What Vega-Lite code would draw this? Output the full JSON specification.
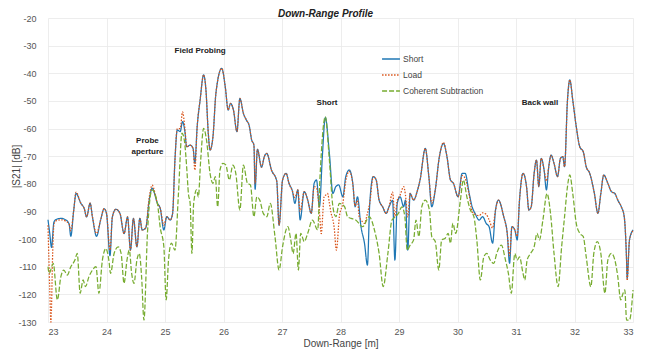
{
  "$schema": "https://vega.github.io/schema/vega-lite/v6.json",
  "width": 585,
  "height": 304,
  "autosize": {"type": "none"},
  "padding": {"left": 48, "top": 18, "right": 14, "bottom": 27},
  "background": "white",
  "title": {"text": "Down-Range Profile", "fontStyle": "italic", "fontWeight": "bold", "fontSize": 10, "font": "Liberation Sans", "color": "#222", "anchor": "middle", "dx": -15, "offset": -5},
  "config": {
    "view": {"stroke": null},
    "axis": {"labelFont": "Liberation Sans", "titleFont": "Liberation Sans", "labelFontSize": 9, "titleFontSize": 10, "labelColor": "#555", "titleColor": "#444", "titleFontWeight": "normal", "domain": false, "ticks": false, "gridColor": "#e8e8e8", "gridWidth": 0.8}
  },
  "datasets": {
    "short": [
      {"x":23.00,"y":-93},{"x":23.03,"y":-98},{"x":23.06,"y":-103},{"x":23.10,"y":-94},{"x":23.13,"y":-93},{"x":23.22,"y":-92.5},{"x":23.30,"y":-93},{"x":23.36,"y":-94.5},{"x":23.39,"y":-99},{"x":23.44,"y":-89.5},{"x":23.48,"y":-83.5},{"x":23.56,"y":-87},{"x":23.62,"y":-89},{"x":23.66,"y":-92},{"x":23.72,"y":-87},{"x":23.76,"y":-92},{"x":23.83,"y":-99},{"x":23.90,"y":-93},{"x":23.96,"y":-89},{"x":24.00,"y":-90.7},{"x":24.06,"y":-106},{"x":24.10,"y":-92},{"x":24.16,"y":-89.2},{"x":24.23,"y":-90.7},{"x":24.30,"y":-98},{"x":24.36,"y":-92},{"x":24.41,"y":-104},{"x":24.46,"y":-92.5},{"x":24.52,"y":-102.8},{"x":24.57,"y":-92.5},{"x":24.61,"y":-96.7},{"x":24.67,"y":-96},{"x":24.73,"y":-86},{"x":24.78,"y":-81.6},{"x":24.87,"y":-87},{"x":24.92,"y":-89},{"x":24.98,"y":-96.7},{"x":25.03,"y":-91.9},{"x":25.09,"y":-93.1},{"x":25.13,"y":-90.7},{"x":25.17,"y":-71.4},{"x":25.21,"y":-60.5},{"x":25.26,"y":-61.1},{"x":25.30,"y":-57.5},{"x":25.34,"y":-61.1},{"x":25.37,"y":-66.6},{"x":25.43,"y":-66},{"x":25.48,"y":-67.2},{"x":25.51,"y":-72.6},{"x":25.55,"y":-59.3},{"x":25.60,"y":-49.7},{"x":25.66,"y":-40.6},{"x":25.70,"y":-46.1},{"x":25.74,"y":-61.7},{"x":25.77,"y":-67.8},{"x":25.82,"y":-62.9},{"x":25.87,"y":-47.3},{"x":25.97,"y":-38.2},{"x":26.03,"y":-44.9},{"x":26.08,"y":-53.3},{"x":26.12,"y":-50.9},{"x":26.17,"y":-53.3},{"x":26.23,"y":-61.1},{"x":26.28,"y":-49.1},{"x":26.34,"y":-54.5},{"x":26.39,"y":-56.9},{"x":26.44,"y":-59},{"x":26.48,"y":-64},{"x":26.52,"y":-66},{"x":26.54,"y":-82},{"x":26.58,"y":-67.5},{"x":26.65,"y":-74},{"x":26.70,"y":-70},{"x":26.74,"y":-69},{"x":26.82,"y":-75},{"x":26.91,"y":-79},{"x":26.95,"y":-95},{"x":27.01,"y":-78.6},{"x":27.07,"y":-76.2},{"x":27.12,"y":-79.8},{"x":27.18,"y":-82.8},{"x":27.22,"y":-87.1},{"x":27.27,"y":-82.2},{"x":27.31,"y":-93.1},{"x":27.38,"y":-82.8},{"x":27.44,"y":-85.9},{"x":27.50,"y":-90.7},{"x":27.55,"y":-79.8},{"x":27.59,"y":-78.6},{"x":27.64,"y":-88.3},{"x":27.69,"y":-70},{"x":27.74,"y":-56},{"x":27.81,"y":-69},{"x":27.87,"y":-83.5},{"x":27.92,"y":-81},{"x":27.97,"y":-80.4},{"x":28.04,"y":-84.7},{"x":28.09,"y":-77.4},{"x":28.15,"y":-75},{"x":28.21,"y":-79.8},{"x":28.25,"y":-88.3},{"x":28.29,"y":-84.7},{"x":28.35,"y":-95.5},{"x":28.41,"y":-101.5},{"x":28.46,"y":-109.4},{"x":28.50,"y":-87.1},{"x":28.56,"y":-77.4},{"x":28.61,"y":-78.6},{"x":28.66,"y":-85.9},{"x":28.72,"y":-88.3},{"x":28.78,"y":-90.7},{"x":28.83,"y":-88.3},{"x":28.89,"y":-86},{"x":28.93,"y":-107.6},{"x":28.97,"y":-87.1},{"x":29.02,"y":-84.7},{"x":29.08,"y":-88.3},{"x":29.11,"y":-85.9},{"x":29.15,"y":-104},{"x":29.19,"y":-83.5},{"x":29.25,"y":-85.9},{"x":29.31,"y":-82.8},{"x":29.36,"y":-78.6},{"x":29.45,"y":-67.2},{"x":29.51,"y":-77.4},{"x":29.56,"y":-88.3},{"x":29.62,"y":-82.2},{"x":29.69,"y":-70.2},{"x":29.76,"y":-65.4},{"x":29.82,"y":-70.2},{"x":29.88,"y":-78.6},{"x":29.93,"y":-79.8},{"x":30.01,"y":-84.7},{"x":30.08,"y":-76.2},{"x":30.13,"y":-76.2},{"x":30.20,"y":-83.5},{"x":30.25,"y":-88.3},{"x":30.30,"y":-90.7},{"x":30.37,"y":-93.1},{"x":30.43,"y":-91.9},{"x":30.49,"y":-94.3},{"x":30.54,"y":-95.5},{"x":30.60,"y":-101.5},{"x":30.65,"y":-89.5},{"x":30.70,"y":-85.9},{"x":30.79,"y":-91.9},{"x":30.85,"y":-97.9},{"x":30.89,"y":-108.8},{"x":30.93,"y":-95.5},{"x":30.98,"y":-96.7},{"x":31.02,"y":-100.3},{"x":31.06,"y":-85.9},{"x":31.12,"y":-76.2},{"x":31.18,"y":-81},{"x":31.22,"y":-89.5},{"x":31.26,"y":-88.3},{"x":31.31,"y":-76.2},{"x":31.35,"y":-71.4},{"x":31.39,"y":-81},{"x":31.43,"y":-70.8},{"x":31.48,"y":-75},{"x":31.52,"y":-82.2},{"x":31.56,"y":-73.8},{"x":31.60,"y":-69.6},{"x":31.65,"y":-72.6},{"x":31.71,"y":-77.4},{"x":31.76,"y":-70.8},{"x":31.80,"y":-70.2},{"x":31.83,"y":-73.8},{"x":31.88,"y":-49.7},{"x":31.92,"y":-42.4},{"x":31.97,"y":-49.7},{"x":32.03,"y":-59.3},{"x":32.09,"y":-66.6},{"x":32.15,"y":-68.4},{"x":32.20,"y":-73.8},{"x":32.26,"y":-76.2},{"x":32.34,"y":-83.5},{"x":32.40,"y":-90.7},{"x":32.45,"y":-83.5},{"x":32.50,"y":-76.8},{"x":32.57,"y":-79.8},{"x":32.63,"y":-82.8},{"x":32.69,"y":-83.5},{"x":32.74,"y":-85.9},{"x":32.80,"y":-88.3},{"x":32.85,"y":-91.9},{"x":32.89,"y":-107.6},{"x":32.90,"y":-114.2},{"x":32.94,"y":-100.3},{"x":33.00,"y":-96.7}
    ],
    "load": [
      {"x":23.00,"y":-95},{"x":23.03,"y":-118},{"x":23.05,"y":-130},{"x":23.08,"y":-105},{"x":23.10,"y":-95},{"x":23.13,"y":-93.5},{"x":23.22,"y":-93},{"x":23.30,"y":-93.5},{"x":23.36,"y":-94.5},{"x":23.39,"y":-97},{"x":23.44,"y":-89.5},{"x":23.48,"y":-83},{"x":23.56,"y":-87},{"x":23.62,"y":-89},{"x":23.66,"y":-92},{"x":23.72,"y":-87},{"x":23.76,"y":-92},{"x":23.83,"y":-98},{"x":23.90,"y":-93},{"x":23.96,"y":-89},{"x":24.00,"y":-90.7},{"x":24.06,"y":-104},{"x":24.10,"y":-92},{"x":24.16,"y":-89.2},{"x":24.23,"y":-90.7},{"x":24.30,"y":-98},{"x":24.36,"y":-92},{"x":24.41,"y":-104},{"x":24.46,"y":-92.5},{"x":24.52,"y":-102.8},{"x":24.57,"y":-92.5},{"x":24.61,"y":-96.7},{"x":24.67,"y":-96},{"x":24.73,"y":-85},{"x":24.78,"y":-80.5},{"x":24.87,"y":-87},{"x":24.92,"y":-89},{"x":24.98,"y":-95},{"x":25.03,"y":-91.9},{"x":25.09,"y":-93.1},{"x":25.13,"y":-90.7},{"x":25.17,"y":-71.4},{"x":25.21,"y":-60},{"x":25.26,"y":-60},{"x":25.30,"y":-54},{"x":25.34,"y":-60},{"x":25.37,"y":-66.6},{"x":25.43,"y":-66},{"x":25.48,"y":-67.2},{"x":25.51,"y":-75},{"x":25.55,"y":-59.3},{"x":25.60,"y":-49.7},{"x":25.66,"y":-40.6},{"x":25.70,"y":-46.1},{"x":25.74,"y":-61.7},{"x":25.77,"y":-67.8},{"x":25.82,"y":-62.9},{"x":25.87,"y":-47.3},{"x":25.97,"y":-38.2},{"x":26.03,"y":-44.9},{"x":26.08,"y":-53.3},{"x":26.12,"y":-50.9},{"x":26.17,"y":-53.3},{"x":26.23,"y":-61.1},{"x":26.28,"y":-49.1},{"x":26.34,"y":-54.5},{"x":26.39,"y":-56.9},{"x":26.44,"y":-59},{"x":26.48,"y":-64},{"x":26.52,"y":-66},{"x":26.54,"y":-80},{"x":26.58,"y":-67.5},{"x":26.65,"y":-74},{"x":26.70,"y":-70},{"x":26.74,"y":-69},{"x":26.82,"y":-75},{"x":26.91,"y":-79},{"x":26.95,"y":-95},{"x":27.01,"y":-78.6},{"x":27.07,"y":-76.2},{"x":27.12,"y":-79.8},{"x":27.18,"y":-82.8},{"x":27.22,"y":-85},{"x":27.27,"y":-82.2},{"x":27.31,"y":-90},{"x":27.38,"y":-82.8},{"x":27.44,"y":-85.9},{"x":27.50,"y":-90.7},{"x":27.55,"y":-81},{"x":27.59,"y":-81.5},{"x":27.64,"y":-90},{"x":27.67,"y":-98},{"x":27.72,"y":-84.7},{"x":27.75,"y":-84},{"x":27.78,"y":-83.5},{"x":27.81,"y":-87},{"x":27.84,"y":-90.7},{"x":27.87,"y":-93},{"x":27.89,"y":-95.5},{"x":27.93,"y":-104},{"x":27.98,"y":-92},{"x":28.04,"y":-87},{"x":28.09,"y":-79},{"x":28.15,"y":-75.5},{"x":28.21,"y":-80},{"x":28.25,"y":-88},{"x":28.29,"y":-86},{"x":28.32,"y":-92},{"x":28.35,"y":-93},{"x":28.41,"y":-94.3},{"x":28.46,"y":-90.7},{"x":28.50,"y":-87},{"x":28.56,"y":-77.4},{"x":28.61,"y":-78.6},{"x":28.66,"y":-85.9},{"x":28.72,"y":-88.3},{"x":28.78,"y":-90.7},{"x":28.83,"y":-88.3},{"x":28.89,"y":-83},{"x":28.93,"y":-92},{"x":28.97,"y":-86},{"x":29.02,"y":-84},{"x":29.08,"y":-81},{"x":29.11,"y":-84},{"x":29.15,"y":-92},{"x":29.19,"y":-83.5},{"x":29.25,"y":-85.9},{"x":29.31,"y":-82.8},{"x":29.36,"y":-78.6},{"x":29.45,"y":-67.2},{"x":29.51,"y":-77.4},{"x":29.56,"y":-87},{"x":29.62,"y":-82.2},{"x":29.69,"y":-70.2},{"x":29.76,"y":-65},{"x":29.82,"y":-70.2},{"x":29.88,"y":-78.6},{"x":29.93,"y":-79.8},{"x":30.01,"y":-84.7},{"x":30.08,"y":-77},{"x":30.13,"y":-78},{"x":30.20,"y":-84},{"x":30.25,"y":-90},{"x":30.30,"y":-91},{"x":30.37,"y":-91.5},{"x":30.43,"y":-90.5},{"x":30.49,"y":-91},{"x":30.54,"y":-93},{"x":30.60,"y":-96},{"x":30.65,"y":-89.5},{"x":30.70,"y":-85.9},{"x":30.79,"y":-91.9},{"x":30.85,"y":-97.9},{"x":30.89,"y":-106},{"x":30.93,"y":-95.5},{"x":30.98,"y":-96.7},{"x":31.02,"y":-99},{"x":31.06,"y":-85.9},{"x":31.12,"y":-76.2},{"x":31.18,"y":-81},{"x":31.22,"y":-89.5},{"x":31.26,"y":-88.3},{"x":31.31,"y":-76.2},{"x":31.35,"y":-71.4},{"x":31.39,"y":-81},{"x":31.43,"y":-70.8},{"x":31.48,"y":-75},{"x":31.52,"y":-79},{"x":31.56,"y":-73.8},{"x":31.60,"y":-69.6},{"x":31.65,"y":-72.6},{"x":31.71,"y":-77.4},{"x":31.76,"y":-70.8},{"x":31.80,"y":-70.2},{"x":31.83,"y":-73.8},{"x":31.88,"y":-49.7},{"x":31.92,"y":-42.4},{"x":31.97,"y":-49.7},{"x":32.03,"y":-59.3},{"x":32.09,"y":-66.6},{"x":32.15,"y":-68.4},{"x":32.20,"y":-73.8},{"x":32.26,"y":-76.2},{"x":32.34,"y":-83.5},{"x":32.40,"y":-90.7},{"x":32.45,"y":-83.5},{"x":32.50,"y":-76.8},{"x":32.57,"y":-79.8},{"x":32.63,"y":-82.8},{"x":32.69,"y":-83.5},{"x":32.74,"y":-85.9},{"x":32.80,"y":-88.3},{"x":32.85,"y":-91.9},{"x":32.89,"y":-107.6},{"x":32.90,"y":-115},{"x":32.94,"y":-100.3},{"x":33.00,"y":-97}
    ],
    "cs": [
      {"x":23.00,"y":-110},{"x":23.02,"y":-112.4},{"x":23.09,"y":-108.8},{"x":23.16,"y":-122},{"x":23.22,"y":-113.6},{"x":23.27,"y":-111.2},{"x":23.33,"y":-113},{"x":23.39,"y":-110},{"x":23.46,"y":-107.6},{"x":23.50,"y":-105.2},{"x":23.55,"y":-119.6},{"x":23.60,"y":-114.8},{"x":23.64,"y":-117.2},{"x":23.70,"y":-113.6},{"x":23.76,"y":-111.2},{"x":23.82,"y":-110},{"x":23.87,"y":-119.6},{"x":23.93,"y":-107.6},{"x":23.99,"y":-103.4},{"x":24.04,"y":-107.6},{"x":24.07,"y":-112.4},{"x":24.13,"y":-105.2},{"x":24.20,"y":-102.8},{"x":24.25,"y":-105.2},{"x":24.30,"y":-116},{"x":24.35,"y":-107.6},{"x":24.39,"y":-104},{"x":24.43,"y":-112.4},{"x":24.47,"y":-116},{"x":24.52,"y":-107.6},{"x":24.56,"y":-105.2},{"x":24.60,"y":-113.6},{"x":24.64,"y":-129.3},{"x":24.70,"y":-97.9},{"x":24.74,"y":-85.9},{"x":24.78,"y":-82.2},{"x":24.87,"y":-87.1},{"x":24.92,"y":-96},{"x":24.98,"y":-102.7},{"x":25.02,"y":-122},{"x":25.06,"y":-107.6},{"x":25.11,"y":-101.5},{"x":25.17,"y":-104},{"x":25.23,"y":-83.5},{"x":25.29,"y":-61.7},{"x":25.33,"y":-64.2},{"x":25.37,"y":-73.8},{"x":25.40,"y":-83.5},{"x":25.43,"y":-87.1},{"x":25.46,"y":-105.2},{"x":25.49,"y":-87.1},{"x":25.54,"y":-82.2},{"x":25.57,"y":-84.7},{"x":25.61,"y":-71.4},{"x":25.66,"y":-59.9},{"x":25.71,"y":-64.2},{"x":25.77,"y":-76.2},{"x":25.82,"y":-79.8},{"x":25.86,"y":-77.4},{"x":25.90,"y":-88.3},{"x":25.94,"y":-75},{"x":25.99,"y":-72.6},{"x":26.04,"y":-73.2},{"x":26.10,"y":-78.6},{"x":26.16,"y":-73.2},{"x":26.21,"y":-76.2},{"x":26.28,"y":-89.5},{"x":26.34,"y":-73.2},{"x":26.41,"y":-79.8},{"x":26.46,"y":-80.4},{"x":26.52,"y":-91.9},{"x":26.57,"y":-84.7},{"x":26.62,"y":-85.9},{"x":26.68,"y":-90.7},{"x":26.74,"y":-91.9},{"x":26.80,"y":-87.1},{"x":26.88,"y":-99.1},{"x":26.95,"y":-111.2},{"x":27.01,"y":-102.7},{"x":27.10,"y":-95.5},{"x":27.15,"y":-100.3},{"x":27.19,"y":-105.2},{"x":27.24,"y":-97.9},{"x":27.28,"y":-111.2},{"x":27.32,"y":-97.9},{"x":27.38,"y":-100.9},{"x":27.44,"y":-97.9},{"x":27.52,"y":-93.1},{"x":27.61,"y":-96.7},{"x":27.65,"y":-77.4},{"x":27.74,"y":-55.7},{"x":27.81,"y":-71.4},{"x":27.87,"y":-88.3},{"x":27.92,"y":-91.9},{"x":27.98,"y":-87.1},{"x":28.07,"y":-88.3},{"x":28.12,"y":-91.9},{"x":28.18,"y":-92.5},{"x":28.26,"y":-93.1},{"x":28.38,"y":-95.5},{"x":28.49,"y":-91.9},{"x":28.58,"y":-96.7},{"x":28.66,"y":-105.2},{"x":28.73,"y":-117.2},{"x":28.81,"y":-105.2},{"x":28.88,"y":-93.1},{"x":28.94,"y":-91.9},{"x":28.99,"y":-90.7},{"x":29.05,"y":-88.3},{"x":29.10,"y":-91.9},{"x":29.14,"y":-104},{"x":29.19,"y":-102.2},{"x":29.25,"y":-100.3},{"x":29.29,"y":-93.1},{"x":29.34,"y":-99.1},{"x":29.39,"y":-88.3},{"x":29.45,"y":-85.9},{"x":29.52,"y":-89.5},{"x":29.56,"y":-99.1},{"x":29.62,"y":-100.9},{"x":29.68,"y":-111.2},{"x":29.73,"y":-100.3},{"x":29.79,"y":-99.7},{"x":29.84,"y":-97.9},{"x":29.88,"y":-101.5},{"x":29.92,"y":-94.3},{"x":29.97,"y":-97.9},{"x":30.05,"y":-85.9},{"x":30.10,"y":-78.6},{"x":30.16,"y":-84.7},{"x":30.22,"y":-89.5},{"x":30.28,"y":-91.9},{"x":30.33,"y":-100.3},{"x":30.39,"y":-114.8},{"x":30.45,"y":-106.4},{"x":30.50,"y":-105.2},{"x":30.56,"y":-107.6},{"x":30.62,"y":-108.8},{"x":30.67,"y":-105.2},{"x":30.75,"y":-102.2},{"x":30.82,"y":-107.6},{"x":30.87,"y":-112.4},{"x":30.92,"y":-119.6},{"x":30.98,"y":-105.2},{"x":31.02,"y":-107.6},{"x":31.06,"y":-106.4},{"x":31.12,"y":-112.4},{"x":31.15,"y":-114.8},{"x":31.19,"y":-107.6},{"x":31.25,"y":-105.2},{"x":31.31,"y":-102.8},{"x":31.36,"y":-97.9},{"x":31.40,"y":-100.3},{"x":31.46,"y":-93.1},{"x":31.53,"y":-83.5},{"x":31.59,"y":-90.7},{"x":31.65,"y":-105.2},{"x":31.72,"y":-117.2},{"x":31.78,"y":-102.8},{"x":31.83,"y":-91.9},{"x":31.88,"y":-81},{"x":31.92,"y":-76.8},{"x":31.97,"y":-83.5},{"x":32.03,"y":-94.3},{"x":32.09,"y":-97.9},{"x":32.15,"y":-99.1},{"x":32.20,"y":-106.4},{"x":32.28,"y":-117.2},{"x":32.33,"y":-105.2},{"x":32.39,"y":-100.9},{"x":32.45,"y":-105.2},{"x":32.52,"y":-119.6},{"x":32.57,"y":-107.6},{"x":32.63,"y":-105.2},{"x":32.69,"y":-107.6},{"x":32.74,"y":-113.6},{"x":32.79,"y":-122},{"x":32.83,"y":-119.6},{"x":32.86,"y":-118.4},{"x":32.89,"y":-129.3},{"x":32.94,"y":-129.3},{"x":33.00,"y":-118.4}
    ],
    "notes": [
      {"x":25.60,"y":-31.8,"label":"Field Probing"},
      {"x":24.70,"y":-64.5,"label":"Probe\naperture"},
      {"x":27.77,"y":-50.6,"label":"Short"},
      {"x":31.41,"y":-50.6,"label":"Back wall"}
    ]
  },
  "encoding": {
    "x": {"field": "x", "type": "quantitative", "scale": {"domain": [23, 33], "nice": false}, "axis": {"title": "Down-Range [m]", "values": [23,24,25,26,27,28,29,30,31,32,33], "labelPadding": 5, "titlePadding": 2, "labelExpr": "'' + datum.value"}},
    "y": {"field": "y", "type": "quantitative", "scale": {"domain": [-130, -20], "nice": false}, "axis": {"title": "|S21|   [dB]", "values": [-130,-120,-110,-100,-90,-80,-70,-60,-50,-40,-30,-20], "labelPadding": 12, "titleX": -27, "titleY": 148, "labelExpr": "'' + datum.value"}}
  },
  "layer": [
    {
      "data": {"name": "short"},
      "transform": [{"calculate": "'Short'", "as": "s"}],
      "mark": {"type": "line", "strokeWidth": 1.25, "interpolate": "monotone"},
      "encoding": {
        "color": {"field": "s", "type": "nominal", "scale": {"domain": ["Short", "Load", "Coherent Subtraction"], "range": ["#1f77b4", "#d95319", "#77ac30"]}, "legend": {"title": null, "orient": "none", "legendX": 333, "legendY": 31, "symbolType": "stroke", "symbolSize": 320, "symbolStrokeWidth": 1.3, "labelFontSize": 8.5, "labelFont": "Liberation Sans", "labelColor": "#444", "rowPadding": 1, "labelOffset": 2}},
        "strokeDash": {"field": "s", "type": "nominal", "scale": {"domain": ["Short", "Load", "Coherent Subtraction"], "range": [[1, 0], [1.5, 1.5], [5, 2]]}, "legend": {"title": null, "orient": "none", "legendX": 333, "legendY": 31, "symbolType": "stroke", "symbolSize": 320, "labelFontSize": 8.5, "labelFont": "Liberation Sans"}}
      }
    },
    {
      "data": {"name": "load"},
      "transform": [{"calculate": "'Load'", "as": "s"}],
      "mark": {"type": "line", "strokeWidth": 1.25, "interpolate": "monotone"},
      "encoding": {
        "color": {"field": "s", "type": "nominal"},
        "strokeDash": {"field": "s", "type": "nominal"}
      }
    },
    {
      "data": {"name": "cs"},
      "transform": [{"calculate": "'Coherent Subtraction'", "as": "s"}],
      "mark": {"type": "line", "strokeWidth": 1.25, "interpolate": "monotone"},
      "encoding": {
        "color": {"field": "s", "type": "nominal"},
        "strokeDash": {"field": "s", "type": "nominal"}
      }
    },
    {
      "data": {"name": "notes"},
      "mark": {"type": "text", "font": "Liberation Sans", "fontWeight": "bold", "fontSize": 8, "color": "#222", "lineBreak": "\n", "align": "center", "baseline": "middle", "lineHeight": 11},
      "encoding": {"text": {"field": "label"}}
    }
  ]
}
